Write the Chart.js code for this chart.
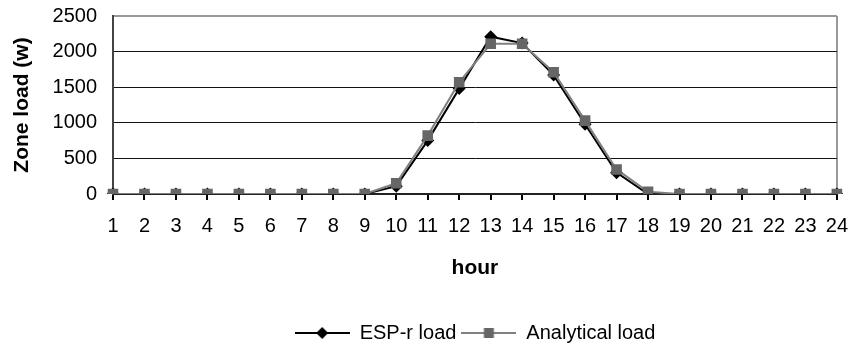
<!DOCTYPE html>
<html lang="en">
<head>
    <meta charset="UTF-8">
    <title>Zone load</title>
    <script src="https://cdn.jsdelivr.net/npm/chart.js"></script>
    <style>
        html, body { margin: 0; padding: 0; background: #fff; }
        #chart-container { width: 862px; height: 347px; }
    </style>
</head>
<body>
    <div id="chart-container">
        <canvas id="loadChart"></canvas>
    </div>
    <script>
        const hours = ["1","2","3","4","5","6","7","8","9","10","11","12","13","14","15","16","17","18","19","20","21","22","23","24"];
        const espLoad = [0,0,0,0,0,0,0,0,0,110,750,1480,2210,2120,1670,980,300,0,0,0,0,0,0,0];
        const analyticalLoad = [0,0,0,0,0,0,0,0,0,150,820,1570,2110,2110,1710,1030,345,30,0,0,0,0,0,0];
        const yTicks = [0, 500, 1000, 1500, 2000, 2500];

        const FONT = "'Liberation Sans', Arial, sans-serif";

        // little legend swatch: line with the marker in the middle
        function legendSwatch(lineColor, markerColor, shape) {
            const c = document.createElement("canvas");
            c.width = 55; c.height = 16;
            const g = c.getContext("2d");
            g.strokeStyle = lineColor;
            g.lineWidth = 2;
            g.beginPath();
            g.moveTo(0, 8); g.lineTo(55, 8);
            g.stroke();
            g.fillStyle = markerColor;
            g.beginPath();
            if (shape === "diamond") {
                g.moveTo(27.5, 2); g.lineTo(33.5, 8); g.lineTo(27.5, 14); g.lineTo(21.5, 8);
            } else {
                g.rect(22.5, 3, 10, 10);
            }
            g.closePath();
            g.fill();
            return c;
        }

        const swatches = [
            legendSwatch("#000", "#000", "diamond"),
            legendSwatch("#808080", "#666", "square")
        ];

        // shift the centred legend so it sits under the plot like the original
        const legendShift = {
            id: "legendShift",
            afterLayout(chart) {
                const lg = chart.legend;
                if (lg) {
                    lg.left = 88;
                    lg.right = 862;
                    lg.top += 6;
                    lg.bottom += 6;
                }
            }
        };

        new Chart(document.getElementById("loadChart"), {
            type: "line",
            data: {
                labels: hours,
                datasets: [{
                    label: "Analytical load",
                    data: analyticalLoad,
                    borderColor: "#808080",
                    backgroundColor: "#666",
                    borderWidth: 2,
                    pointStyle: "rect",
                    pointRadius: 7.5,
                    pointBorderWidth: 0,
                    pointBackgroundColor: "#666",
                    tension: 0
                }, {
                    label: "ESP-r load",
                    data: espLoad,
                    borderColor: "#000",
                    backgroundColor: "#000",
                    borderWidth: 2,
                    pointStyle: "rectRot",
                    pointRadius: 6.5,
                    pointBorderWidth: 0,
                    pointBackgroundColor: "#000",
                    tension: 0
                }]
            },
            options: {
                responsive: true,
                maintainAspectRatio: false,
                animation: false,
                layout: { padding: { top: 0, right: 15, left: 0, bottom: 0 } },
                plugins: {
                    tooltip: { enabled: false },
                    legend: {
                        position: "bottom",
                        labels: {
                            usePointStyle: true,
                            pointStyleWidth: 55,
                            padding: 5,
                            color: "#000",
                            font: { family: FONT, size: 20 },
                            generateLabels(chart) {
                                const names = ["ESP-r load", "Analytical load"];
                                return names.map((name, i) => ({
                                    text: name,
                                    datasetIndex: chart.data.datasets.findIndex(d => d.label === name),
                                    pointStyle: swatches[i],
                                    fillStyle: "transparent",
                                    strokeStyle: "transparent",
                                    lineWidth: 0,
                                    hidden: false,
                                    fontColor: "#000"
                                }));
                            }
                        }
                    }
                },
                scales: {
                    x: {
                        offset: false,
                        grid: {
                            color: ctx => ctx.index === hours.length - 1 ? "#999" : "transparent",
                            tickColor: "#000",
                            tickLength: 6,
                            lineWidth: 2
                        },
                        border: { color: "#222", width: 2 },
                        ticks: {
                            color: "#000",
                            padding: 14,
                            maxRotation: 0,
                            autoSkip: false,
                            font: { family: FONT, size: 20 }
                        },
                        title: {
                            display: true,
                            text: "hour",
                            color: "#000",
                            font: { family: FONT, size: 21, weight: "bold" },
                            padding: { top: 4, bottom: 31 }
                        },
                        afterFit(scale) { scale.height = 118; }
                    },
                    y: {
                        min: 0,
                        max: 2500,
                        afterBuildTicks(scale) { scale.ticks = yTicks.map(v => ({ value: v })); },
                        grid: {
                            color: ctx => ctx.tick && ctx.tick.value === 2500 ? "#999" : "#111",
                            lineWidth: ctx => ctx.tick && ctx.tick.value === 2500 ? 2 : 1,
                            tickLength: 12,
                            tickColor: "transparent"
                        },
                        border: { color: "#444", width: 2 },
                        ticks: {
                            color: "#000",
                            padding: 4,
                            font: { family: FONT, size: 20 },
                            callback: v => String(v)
                        },
                        title: {
                            display: true,
                            text: "Zone load (w)",
                            color: "#000",
                            font: { family: FONT, size: 21, weight: "bold" },
                            padding: { top: 10, bottom: 4 }
                        },
                        afterFit(scale) { scale.width = 113; }
                    }
                }
            },
            plugins: [legendShift]
        });
    </script>
</body>
</html>
